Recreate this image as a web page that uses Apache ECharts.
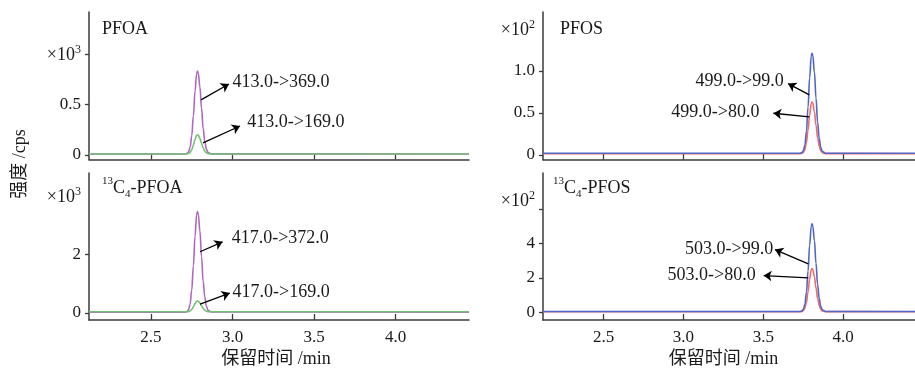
<!DOCTYPE html>
<html>
<head>
<meta charset="utf-8">
<script src="https://cdn.jsdelivr.net/npm/echarts@6/dist/echarts.min.js"></script>
<style>
html, body { margin: 0; padding: 0; background: #fff; }
#chart { width: 915px; height: 369px; }
</style>
</head>
<body>
<div id="chart"></div>
<script>
// retention time (min)
const timeLeft = [2.12, 2.71, 2.72, 2.73, 2.74, 2.75, 2.76, 2.77, 2.78, 2.785, 2.79, 2.80, 2.81, 2.82, 2.83, 2.84, 2.85, 2.87, 4.45];
const timeRight = [2.12, 3.73, 3.74, 3.75, 3.76, 3.77, 3.78, 3.79, 3.80, 3.805, 3.81, 3.82, 3.83, 3.84, 3.85, 3.86, 3.87, 3.89, 4.45];

// intensity, PFOA in x10^3 cps, PFOS in x10^2 cps
const pfoa369 = [0.01, 0.01, 0.014, 0.029, 0.076, 0.19, 0.387, 0.63, 0.805, 0.83, 0.811, 0.674, 0.461, 0.264, 0.133, 0.057, 0.025, 0.011, 0.01];
const pfoa169 = [0.01, 0.01, 0.011, 0.014, 0.025, 0.052, 0.097, 0.153, 0.194, 0.20, 0.196, 0.164, 0.115, 0.069, 0.039, 0.021, 0.013, 0.01, 0.01];
const c4pfoa372 = [0.03, 0.03, 0.047, 0.109, 0.304, 0.785, 1.61, 2.62, 3.36, 3.46, 3.38, 2.81, 1.92, 1.09, 0.545, 0.225, 0.092, 0.033, 0.03];
const c4pfoa169 = [0.04, 0.04, 0.042, 0.049, 0.07, 0.121, 0.21, 0.319, 0.399, 0.41, 0.401, 0.34, 0.244, 0.155, 0.096, 0.061, 0.047, 0.04, 0.04];
const pfos99 = [0.02, 0.02, 0.026, 0.047, 0.115, 0.282, 0.567, 0.918, 1.174, 1.21, 1.183, 0.984, 0.675, 0.389, 0.199, 0.088, 0.041, 0.021, 0.02];
const pfos80 = [0.015, 0.015, 0.018, 0.029, 0.064, 0.150, 0.298, 0.479, 0.612, 0.63, 0.616, 0.513, 0.353, 0.206, 0.107, 0.05, 0.026, 0.016, 0.015];
const c4pfos99 = [0.05, 0.05, 0.075, 0.167, 0.456, 1.17, 2.39, 3.89, 4.98, 5.13, 5.01, 4.16, 2.84, 1.62, 0.812, 0.34, 0.141, 0.055, 0.05];
const c4pfos80 = [0.04, 0.04, 0.053, 0.098, 0.24, 0.59, 1.19, 1.93, 2.47, 2.54, 2.48, 2.07, 1.42, 0.815, 0.415, 0.183, 0.085, 0.043, 0.04];

// axis ticks
const xTicks = [2.5, 3.0, 3.5, 4.0];
const pfoaYTicks = [0, 0.5, 1.0];
const pfoaYLabels = [0, 0.5, 1.0];
const pfosYTicks = [0, 0.5, 1.0];
const pfosYLabels = [0, 0.5, 1.0, 1.5];
const c4pfoaYTicks = [0, 2];
const c4pfoaYLabels = [0, 2, 4];
const c4pfosYTicks = [0, 2, 4, 6];
const c4pfosYLabels = [0, 2, 4, 6.5];

// transition labels with arrows: [x tail, y tail, x head, y head]
const pfoaArrows = [[2.807, 0.545, 2.978, 0.703], [2.819, 0.119, 3.046, 0.287]];
const pfoaArrowText = ['413.0->369.0', '413.0->169.0'];
const c4pfoaArrows = [[2.801, 2.09, 2.939, 2.43], [2.801, 0.305, 2.983, 0.678]];
const c4pfoaArrowText = ['417.0->372.0', '417.0->169.0'];
const pfosArrows = [[3.788, 0.714, 3.655, 0.849], [3.788, 0.452, 3.563, 0.496]];
const pfosArrowText = ['499.0->99.0', '499.0->80.0'];
const c4pfosArrows = [[3.782, 2.81, 3.573, 3.64], [3.782, 2.00, 3.502, 2.135]];
const c4pfosArrowText = ['503.0->99.0', '503.0->80.0'];

const serif = "'Liberation Serif', 'Noto Sans CJK SC', serif";
const ink = '#1a1a1a';
const axisColor = '#3a3a3a';

function pairs(t, v) {
    return t.map((x, i) => [x, v[i]]);
}

function arrowLines(arrows, texts, align, dist) {
    return arrows.map((a, i) => [
        { coord: [a[0], a[1]] },
        {
            coord: [a[2], a[3]],
            label: {
                show: true, position: 'end', formatter: texts[i], distance: dist[i],
                align: align, verticalAlign: 'middle',
                color: ink, fontSize: 18, fontFamily: serif
            }
        }
    ]);
}

function xAxisFor(idx, showLabels) {
    return {
        type: 'value', gridIndex: idx, min: 2.12, max: 4.45,
        axisLine: { onZero: false, lineStyle: { color: axisColor, width: 1.5 } },
        axisTick: { show: true, inside: true, length: 6, customValues: xTicks, lineStyle: { color: axisColor, width: 1.3 } },
        axisLabel: {
            show: showLabels, customValues: xTicks, margin: 9,
            formatter: v => v.toFixed(1), color: ink, fontSize: 17, fontFamily: serif
        },
        splitLine: { show: false },
        name: showLabels ? '保留时间 /min' : '',
        nameLocation: 'middle', nameGap: 30,
        nameTextStyle: { color: ink, fontSize: 18, fontFamily: serif, padding: [0, idx === 2 ? 6 : 11, 0, 0] }
    };
}

function yAxisFor(idx, min, max, ticks, labels, expAt, exp, decimals) {
    return {
        type: 'value', gridIndex: idx, min: min, max: max,
        axisLine: { show: true, lineStyle: { color: axisColor, width: 1.5 } },
        axisTick: { show: true, length: 4, customValues: ticks, lineStyle: { color: axisColor, width: 1.3 } },
        axisLabel: {
            customValues: labels, margin: 8, color: ink, fontSize: 17, fontFamily: serif,
            formatter: v => v === expAt ? '{base|×10}{sup|' + exp + '}' : (v === 0 ? '0' : v.toFixed(decimals)),
            rich: {
                base: { fontSize: 18, fontFamily: serif, color: ink, lineHeight: 20, verticalAlign: 'bottom' },
                sup: { fontSize: 12, verticalAlign: 'top', lineHeight: 10, fontFamily: serif, color: ink }
            }
        },
        splitLine: { show: false }
    };
}

function trace(idx, t, v, color, extra) {
    return Object.assign({
        type: 'line', xAxisIndex: idx, yAxisIndex: idx,
        data: pairs(t, v), showSymbol: false, smooth: 0.4, smoothMonotone: 'x',
        lineStyle: { color: color, width: 1.6 }, itemStyle: { color: color }
    }, extra || {});
}

function arrowMark(arrows, texts, align, dist) {
    return {
        markLine: {
            silent: true, animation: false,
            symbol: ['none', 'arrow'], symbolSize: 8,
            lineStyle: { color: '#000', width: 1.3, type: 'solid' },
            label: { show: false },
            data: arrowLines(arrows, texts, align, dist)
        }
    };
}

const purple = '#b067c4';
const green = '#74c074';
const blue = '#5266c6';
const red = '#f26a6a';

const titleStyle = {
    color: ink, fontSize: 18, fontFamily: serif, fontWeight: 'normal', lineHeight: 24,
    rich: {
        sup: { fontSize: 11, verticalAlign: 'top', lineHeight: 8, fontFamily: serif, color: ink },
        sub: { fontSize: 11, verticalAlign: 'bottom', lineHeight: 14, fontFamily: serif, color: ink }
    }
};

const chart = echarts.init(document.getElementById('chart'));
chart.setOption({
    animation: false,
    backgroundColor: '#fff',
    title: [
        { text: 'PFOA', left: 102, top: 17, padding: 0, textStyle: titleStyle },
        { text: 'PFOS', left: 560, top: 17, padding: 0, textStyle: titleStyle },
        { text: '{sup|13}C{sub|4}-PFOA', left: 102, top: 176, padding: 0, textStyle: titleStyle },
        { text: '{sup|13}C{sub|4}-PFOS', left: 553, top: 176, padding: 0, textStyle: titleStyle }
    ],
    grid: [
        { left: 89, top: 12, width: 380, height: 147.5 },
        { left: 543, top: 12, width: 380, height: 147.5 },
        { left: 89, top: 173, width: 380, height: 148 },
        { left: 543, top: 173, width: 380, height: 148 }
    ],
    xAxis: [xAxisFor(0, false), xAxisFor(1, false), xAxisFor(2, true), xAxisFor(3, true)],
    yAxis: [
        yAxisFor(0, -0.045, 1.416, pfoaYTicks, pfoaYLabels, 1.0, '3', 1),
        yAxisFor(1, -0.054, 1.70, pfosYTicks, pfosYLabels, 1.5, '2', 1),
        yAxisFor(2, -0.24, 4.78, c4pfoaYTicks, c4pfoaYLabels, 4, '3', 0),
        yAxisFor(3, -0.44, 8.08, c4pfosYTicks, c4pfosYLabels, 6.5, '2', 0)
    ],
    graphic: [{
        type: 'text', x: 20, y: 164, rotation: Math.PI / 2,
        style: {
            text: '强度 /cps', fill: ink, font: "18px 'Liberation Serif', 'Noto Sans CJK SC'",
            align: 'center', verticalAlign: 'middle', textAlign: 'center', textVerticalAlign: 'middle'
        }
    }],
    series: [
        trace(0, timeLeft, pfoa369, purple, arrowMark(pfoaArrows, pfoaArrowText, 'left', [4, 8])),
        trace(0, timeLeft, pfoa169, green),
        trace(1, timeRight, pfos80, red, arrowMark(pfosArrows, pfosArrowText, 'right', [5, 14])),
        trace(1, timeRight, pfos99, blue),
        trace(2, timeLeft, c4pfoa372, purple, arrowMark(c4pfoaArrows, c4pfoaArrowText, 'left', [10, 3])),
        trace(2, timeLeft, c4pfoa169, green),
        trace(3, timeRight, c4pfos80, red, arrowMark(c4pfosArrows, c4pfosArrowText, 'right', [2, 8])),
        trace(3, timeRight, c4pfos99, blue)
    ]
});
</script>
</body>
</html>
